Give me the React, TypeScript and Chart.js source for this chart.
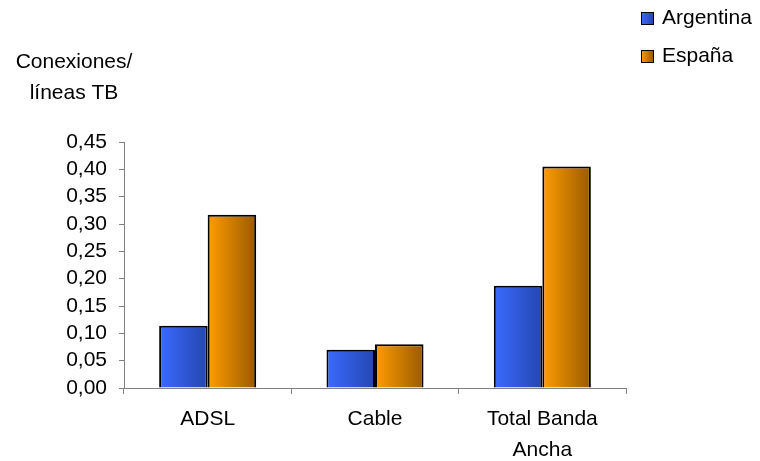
import React, { useEffect, useRef } from "react";
import { Chart, registerables } from "chart.js";

Chart.register(...registerables);

const categories: (string | string[])[] = ["ADSL", "Cable", ["Total Banda", "Ancha"]];
const seriesNames = ["Argentina", "España"];
const argentinaValues = [0.114, 0.07, 0.187];
const espanaValues = [0.317, 0.08, 0.405];
const yTitleLines = ["Conexiones/", "líneas TB"];
const seriesGradients = [
  ["#3a6bff", "#2446b0"],
  ["#ff9d00", "#9a5a00"],
];

const FONT = "'Liberation Sans', Arial, sans-serif";
const CAT_PCT = 0.58;

const overlayPlugin = {
  id: "overlay",
  afterDraw(chart: any) {
    const ctx = chart.ctx;
    ctx.save();
    ctx.fillStyle = "#000";
    ctx.font = `21px ${FONT}`;
    ctx.textAlign = "center";
    ctx.textBaseline = "middle";
    yTitleLines.forEach((t, i) => ctx.fillText(t, 74, 62 + i * 31));
    // legend
    ctx.textAlign = "left";
    chart.data.datasets.forEach((ds: any, i: number) => {
      const y = 12 + i * 38;
      const g = ctx.createLinearGradient(641, 0, 653, 0);
      g.addColorStop(0, seriesGradients[i][0]);
      g.addColorStop(1, seriesGradients[i][1]);
      ctx.fillStyle = g;
      ctx.fillRect(641, y, 12, 12);
      ctx.strokeStyle = "#000";
      ctx.lineWidth = 1;
      ctx.strokeRect(641.5, y + 0.5, 12, 12);
      ctx.fillStyle = "#000";
      ctx.fillText(ds.label, 662, y + 6.5);
    });
    ctx.restore();
  },
};

function gradientFor(seriesIndex: number) {
  return (c: any) => {
    const chart = c.chart;
    const xs = chart.scales && chart.scales.x;
    if (!xs || c.type !== "data") return seriesGradients[seriesIndex][0];
    const center = xs.getPixelForValue(c.dataIndex);
    const cat = (xs.right - xs.left) / categories.length;
    if (!Number.isFinite(center) || !Number.isFinite(cat) || cat <= 0) return seriesGradients[seriesIndex][0];
    const bw = (cat * CAT_PCT) / 2;
    const left = seriesIndex === 0 ? center - bw : center;
    const g = chart.ctx.createLinearGradient(left, 0, left + bw, 0);
    g.addColorStop(0, seriesGradients[seriesIndex][0]);
    g.addColorStop(1, seriesGradients[seriesIndex][1]);
    return g;
  };
}

export default function App() {
  const ref = useRef<HTMLCanvasElement>(null);
  useEffect(() => {
    document.body.style.margin = "0";
    const chart = new Chart(ref.current as HTMLCanvasElement, {
      type: "bar",
      data: {
        labels: categories as any,
        datasets: [
          {
            label: seriesNames[0],
            data: argentinaValues,
            backgroundColor: gradientFor(0) as any,
            borderColor: "#000",
            borderWidth: 2,
          },
          {
            label: seriesNames[1],
            data: espanaValues,
            backgroundColor: gradientFor(1) as any,
            borderColor: "#000",
            borderWidth: 2,
          },
        ],
      },
      options: {
        responsive: false,
        animation: false,
        devicePixelRatio: 1,
        layout: { padding: { left: 0, top: 142, right: 134, bottom: 0 } },
        datasets: { bar: { categoryPercentage: CAT_PCT, barPercentage: 1 } },
        plugins: { legend: { display: false }, tooltip: { enabled: false } },
        scales: {
          x: {
            grid: { offset: true, drawOnChartArea: false, drawTicks: true, tickLength: 6, color: "#808080" },
            border: { color: "#808080", width: 1 },
            ticks: { color: "#000", font: { family: FONT, size: 21, lineHeight: 1.5 }, padding: 9, maxRotation: 0, autoSkip: false },
            afterFit: (s: any) => { s.height = 73; },
          },
          y: {
            min: 0,
            max: 0.45,
            grid: { drawOnChartArea: false, drawTicks: true, tickLength: 5, color: "#808080" },
            border: { color: "#808080", width: 1 },
            ticks: {
              stepSize: 0.05,
              autoSkip: false,
              color: "#000",
              font: { family: FONT, size: 21, lineHeight: 1 },
              padding: 12,
              callback: (v: any) => Number(v).toFixed(2).replace(".", ","),
            },
            afterFit: (s: any) => { s.width = 124; },
          },
        },
      },
      plugins: [overlayPlugin],
    });
    return () => chart.destroy();
  }, []);
  return (
    <div style={{ width: 760, height: 461 }}>
      <canvas ref={ref} width={760} height={461} />
    </div>
  );
}
